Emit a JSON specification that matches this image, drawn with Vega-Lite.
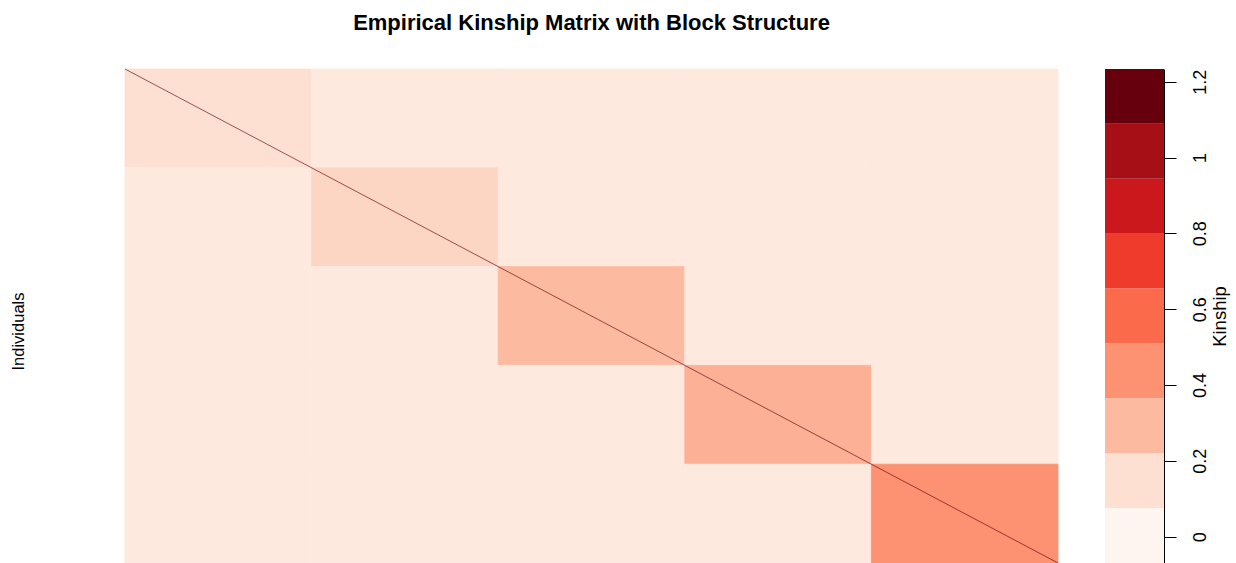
{
  "$schema": "https://vega.github.io/schema/vega-lite/v6.json",
  "width": 1039,
  "height": 494,
  "autosize": {"type": "none"},
  "padding": {"left": 125, "top": 69, "right": 72, "bottom": 0},
  "background": "white",
  "config": {"view": {"stroke": null}, "font": "Liberation Sans"},
  "title": {
    "text": "Empirical Kinship Matrix with Block Structure",
    "font": "Liberation Sans",
    "fontSize": 22,
    "fontWeight": "bold",
    "color": "black",
    "anchor": "middle",
    "frame": "group",
    "dx": -53,
    "offset": 17,
    "baseline": "alphabetic"
  },
  "datasets": {
    "cells": [
      {"row_start": 0, "row_end": 100, "col_start": 0, "col_end": 100, "kinship": 0.148},
      {"row_start": 0, "row_end": 100, "col_start": 100, "col_end": 200, "kinship": 0.085},
      {"row_start": 0, "row_end": 100, "col_start": 200, "col_end": 300, "kinship": 0.085},
      {"row_start": 0, "row_end": 100, "col_start": 300, "col_end": 400, "kinship": 0.085},
      {"row_start": 0, "row_end": 100, "col_start": 400, "col_end": 500, "kinship": 0.085},
      {"row_start": 100, "row_end": 200, "col_start": 0, "col_end": 100, "kinship": 0.085},
      {"row_start": 100, "row_end": 200, "col_start": 100, "col_end": 200, "kinship": 0.191},
      {"row_start": 100, "row_end": 200, "col_start": 200, "col_end": 300, "kinship": 0.085},
      {"row_start": 100, "row_end": 200, "col_start": 300, "col_end": 400, "kinship": 0.085},
      {"row_start": 100, "row_end": 200, "col_start": 400, "col_end": 500, "kinship": 0.085},
      {"row_start": 200, "row_end": 300, "col_start": 0, "col_end": 100, "kinship": 0.085},
      {"row_start": 200, "row_end": 300, "col_start": 100, "col_end": 200, "kinship": 0.085},
      {"row_start": 200, "row_end": 300, "col_start": 200, "col_end": 300, "kinship": 0.2925},
      {"row_start": 200, "row_end": 300, "col_start": 300, "col_end": 400, "kinship": 0.085},
      {"row_start": 200, "row_end": 300, "col_start": 400, "col_end": 500, "kinship": 0.085},
      {"row_start": 300, "row_end": 400, "col_start": 0, "col_end": 100, "kinship": 0.085},
      {"row_start": 300, "row_end": 400, "col_start": 100, "col_end": 200, "kinship": 0.085},
      {"row_start": 300, "row_end": 400, "col_start": 200, "col_end": 300, "kinship": 0.085},
      {"row_start": 300, "row_end": 400, "col_start": 300, "col_end": 400, "kinship": 0.33},
      {"row_start": 300, "row_end": 400, "col_start": 400, "col_end": 500, "kinship": 0.085},
      {"row_start": 400, "row_end": 500, "col_start": 0, "col_end": 100, "kinship": 0.085},
      {"row_start": 400, "row_end": 500, "col_start": 100, "col_end": 200, "kinship": 0.085},
      {"row_start": 400, "row_end": 500, "col_start": 200, "col_end": 300, "kinship": 0.085},
      {"row_start": 400, "row_end": 500, "col_start": 300, "col_end": 400, "kinship": 0.085},
      {"row_start": 400, "row_end": 500, "col_start": 400, "col_end": 500, "kinship": 0.4373}
    ],
    "diagonal": [
      {"row_start": 0, "row_end": 500, "col_start": 0, "col_end": 500, "kinship": 1.2}
    ],
    "bins": [
      {"lower": -0.0694, "upper": 0.0754, "mid": 0.003},
      {"lower": 0.0754, "upper": 0.2201, "mid": 0.1478},
      {"lower": 0.2201, "upper": 0.3649, "mid": 0.2925},
      {"lower": 0.3649, "upper": 0.5096, "mid": 0.4373},
      {"lower": 0.5096, "upper": 0.6544, "mid": 0.5821},
      {"lower": 0.6544, "upper": 0.7992, "mid": 0.7268},
      {"lower": 0.7992, "upper": 0.9439, "mid": 0.8716},
      {"lower": 0.9439, "upper": 1.0887, "mid": 1.0163},
      {"lower": 1.0887, "upper": 1.2334, "mid": 1.1611}
    ]
  },
  "layer": [
    {
      "layer": [
        {
          "data": {"name": "cells"},
          "mark": {"type": "rect", "strokeWidth": 0.8},
          "encoding": {
            "x": {"field": "col_start", "type": "quantitative", "scale": {"domain": [0, 500], "range": [0, 933], "nice": false, "zero": false}, "axis": null},
            "x2": {"field": "col_end"},
            "y": {"field": "row_start", "type": "quantitative", "scale": {"domain": [0, 500], "range": [0, 494], "nice": false, "zero": false},
              "axis": {"title": "Individuals", "labels": false, "ticks": false, "domain": false, "grid": false,
                "titleFont": "Liberation Sans", "titleFontSize": 16.5, "titleFontWeight": "normal", "titleColor": "black",
                "titleX": -102, "titleY": 262, "titleAngle": 270, "titleAlign": "center", "titleBaseline": "alphabetic"}},
            "y2": {"field": "row_end"},
            "color": {"field": "kinship", "type": "quantitative", "legend": null,
              "scale": {"type": "linear", "interpolate": "rgb", "clamp": true,
                "domain": [0.003, 0.1478, 0.2925, 0.4373, 0.5821, 0.7268, 0.8716, 1.0163, 1.1611],
                "range": ["#FFF5F0", "#FEE0D2", "#FCBBA1", "#FC9272", "#FB6A4A", "#EF3B2C", "#CB181D", "#A50F15", "#67000D"]}},
            "stroke": {"field": "kinship", "type": "quantitative", "legend": null,
              "scale": {"type": "linear", "interpolate": "rgb", "clamp": true,
                "domain": [0.003, 0.1478, 0.2925, 0.4373, 0.5821, 0.7268, 0.8716, 1.0163, 1.1611],
                "range": ["#FFF5F0", "#FEE0D2", "#FCBBA1", "#FC9272", "#FB6A4A", "#EF3B2C", "#CB181D", "#A50F15", "#67000D"]}}
          }
        },
        {
          "data": {"name": "diagonal"},
          "mark": {"type": "rule", "strokeWidth": 1, "opacity": 0.65},
          "encoding": {
            "x": {"field": "col_start", "type": "quantitative", "axis": null},
            "x2": {"field": "col_end"},
            "y": {"field": "row_start", "type": "quantitative"},
            "y2": {"field": "row_end"},
            "color": {"field": "kinship", "type": "quantitative", "legend": null}
          }
        }
      ]
    },
    {
      "data": {"name": "bins"},
      "mark": {"type": "rect"},
      "encoding": {
        "x": {"datum": 0, "type": "quantitative", "scale": {"domain": [0, 1], "range": [980, 1039], "nice": false, "zero": false}, "axis": null},
        "x2": {"datum": 1},
        "y": {"field": "lower", "type": "quantitative", "scale": {"domain": [-0.0694, 1.2334], "nice": false, "zero": false},
          "axis": {"orient": "right", "title": "Kinship", "values": [0, 0.2, 0.4, 0.6, 0.8, 1, 1.2], "format": "~g", "grid": false,
            "domain": true, "domainColor": "black", "domainWidth": 1,
            "ticks": true, "tickColor": "black", "tickSize": 12, "tickWidth": 1,
            "labelFont": "Liberation Sans", "labelFontSize": 18, "labelColor": "black", "labelAngle": 270,
            "labelAlign": "center", "labelBaseline": "alphabetic", "labelPadding": 29, "labelOverlap": false, "labelFlush": false,
            "titleFont": "Liberation Sans", "titleFontSize": 18.5, "titleFontWeight": "normal", "titleColor": "black",
            "titleAngle": 270, "titleAlign": "center", "titleBaseline": "alphabetic", "titleX": 61.5, "titleY": 247}},
        "y2": {"field": "upper"},
        "color": {"field": "mid", "type": "quantitative", "legend": null}
      }
    }
  ],
  "resolve": {
    "scale": {"x": "independent", "y": "independent", "color": "shared"},
    "axis": {"x": "independent", "y": "independent"}
  }
}
